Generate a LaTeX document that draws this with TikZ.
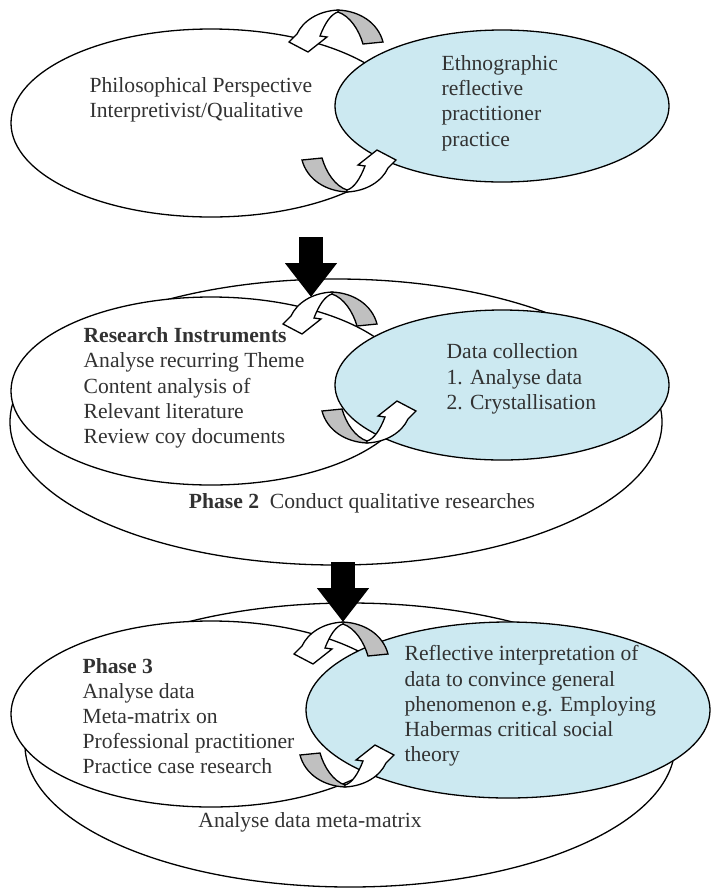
\documentclass[tikz,border=0pt]{standalone}
\usepackage{fontspec}
\setmainfont{Liberation Serif}
\usepackage{tikz}
\usetikzlibrary{positioning, arrows.meta, shapes.geometric, calc}
\definecolor{practiceblue}{RGB}{204,233,241}
\definecolor{twistgray}{RGB}{192,192,192}
\definecolor{textgray}{RGB}{50,50,50}
\tikzset{
    twist/.pic = {
    \filldraw[fill=twistgray] (0,0) .. controls (22,1) and (40,13) .. (45,32) -- (25,34) .. controls (21,20) and (12,6) .. (0,2) -- cycle;
    \filldraw[fill=white] (0,0) .. controls (-20,1) and (-35,11) .. (-41,24) -- (-49,32) -- (-30,42) -- (-11,27) -- (-18,26) .. controls (-13,13) and (-7,4) .. (0,2) -- cycle;
    },
    ring/.style={ellipse, draw, fill=white, inner sep=0pt},
    practice/.style={ring, fill=practiceblue},
    words/.style={align=left, inner sep=0pt, text=textgray, font=\fontsize{10.8}{12.6}\selectfont},
}

\begin{document}
\begin{tikzpicture}[x=0.5pt, y=-0.5pt, line width=0.65pt]
    \tikzset{
      push/.style={line width=12pt, -{Triangle[width=25pt, length=17pt]}}
    }
    \useasboundingbox (0,0) rectangle (711,890);

    % phase 1
    \node[ring, minimum width=200pt, minimum height=94pt] (view) at (211,123) {};
    \node[practice, minimum width=167pt, minimum height=76pt] (ethno) at (502,106) {};
    \pic at (338,10) {twist};
    \pic[rotate=180] at (347,192) {twist};
    \node[words, anchor=west] (viewtext) at (89,100) {Philosophical Perspective\\Interpretivist/Qualitative};
    \node[words, anchor=west] (ethnotext) at (441,103) {Ethnographic\\reflective\\practitioner\\practice};

    % phase 2
    \node[ring, minimum width=326pt, minimum height=143pt] (conduct) at (336,422) {};
    \node[ring, minimum width=200pt, minimum height=94pt] (tools) at (211,391) {};
    \node[practice, minimum width=167pt, minimum height=75pt] (collect) at (502,385) {};
    \pic at (332,292) {twist};
    \pic[rotate=180] at (367,443) {twist};
    \node[words, anchor=west] (toolstext) at (83,388) {\textbf{Research Instruments}\\Analyse recurring Theme\\Content analysis of\\Relevant literature\\Review coy documents};
    \node[words, anchor=west] (collecttext) at (446,379) {Data collection\\1. Analyse data\\2. Crystallisation};
    \node[words] (conductlabel) at (362,503) {\textbf{Phase 2}\ \ Conduct qualitative researches};
    \coordinate (push1) at (311,237);
    \coordinate (land1) at (311,297);
    \draw[push] (push1) -- (land1);

    % phase 3
    \node[ring, minimum width=325pt, minimum height=142pt] (matrix) at (350,745) {};
    \node[ring, minimum width=200pt, minimum height=93pt] (analyse) at (211,714) {};
    \node[practice, minimum width=202pt, minimum height=88pt] (reflect) at (508,710) {};
    \pic at (343,622) {twist};
    \pic[rotate=180] at (345,787) {twist};
    \node[words, anchor=west] (analysetext) at (82,716) {\textbf{Phase 3}\\Analyse data\\Meta-matrix on\\Professional practitioner\\Practice case research};
    \node[words, anchor=west] (reflecttext) at (404,706) {Reflective interpretation of\\data to convince general\\phenomenon e.g. Employing\\Habermas critical social\\theory};
    \node[words] (matrixlabel) at (310,822) {Analyse data meta-matrix};
    \coordinate (push2) at (343,562);
    \coordinate (land2) at (343,622);
    \draw[push] (push2) -- (land2);

  \end{tikzpicture}
\end{document}
